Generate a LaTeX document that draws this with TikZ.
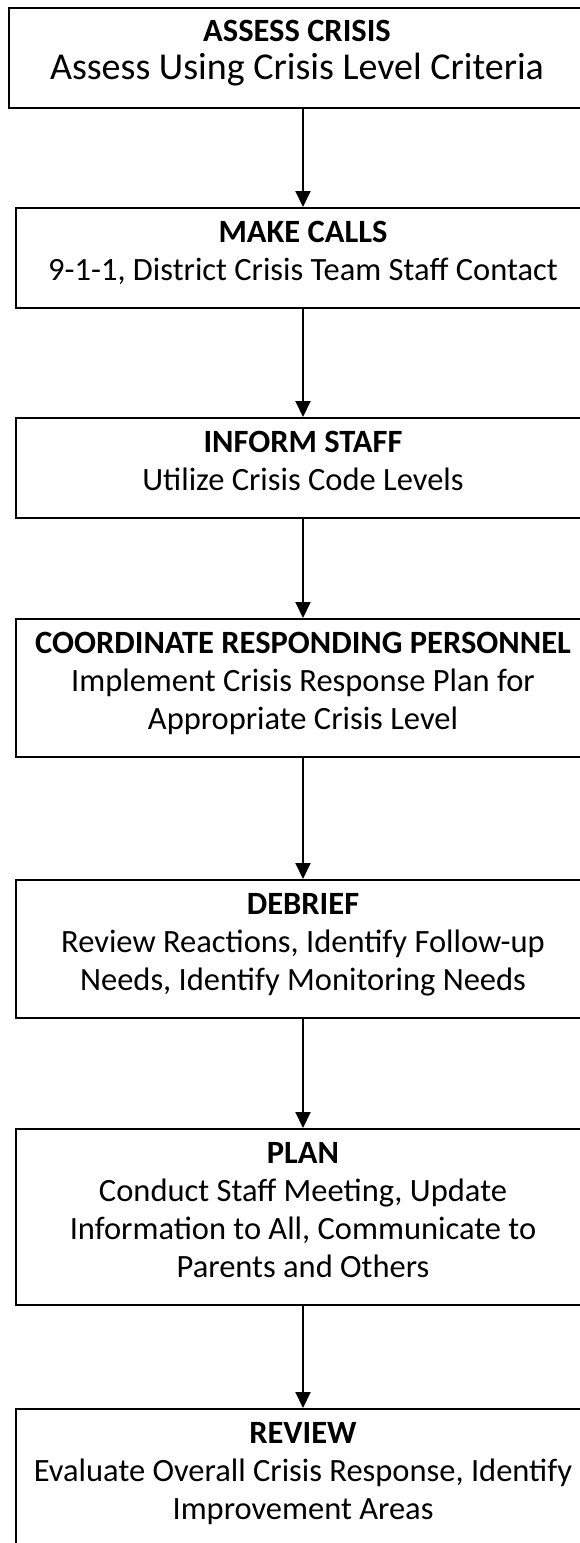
\documentclass[tikz,border=0pt]{standalone}
\usepackage{fontspec}
\setmainfont{Carlito}
\usetikzlibrary{arrows.meta}
% struts that fix the space above the first line and below the last one
\newcommand\topgap{\rule{0pt}{34pt}}
\newcommand\botgap{\rule[-28pt]{0pt}{28pt}}
\begin{document}
\begin{tikzpicture}[x=1pt,y=-1pt,
  stepbox/.style={draw=black, line width=2pt, anchor=north west, align=center,
    inner xsep=0pt, inner ysep=0pt, minimum width=574pt,
    font=\fontsize{32.5}{38}\selectfont},
  flow/.style={draw=black, line width=2pt, -{Triangle[width=15pt,length=16pt]}}]
\useasboundingbox (0,0) rectangle (580,1543);
\clip (0,0) rectangle (580,1543);

\node[stepbox, minimum width=576pt, font=\fontsize{32.5}{38}\selectfont] (assess) at (8,7)
  {\rule{0pt}{33pt}\textbf{ASSESS CRISIS}\\
   {\fontsize{38}{38}\selectfont Assess Using Crisis Level Criteria}\rule[-29pt]{0pt}{29pt}};
\node[stepbox] (calls) at (15,207)
  {\topgap\textbf{MAKE CALLS}\\9-1-1, District Crisis Team Staff Contact\botgap};
\node[stepbox] (inform) at (15,417)
  {\topgap\textbf{INFORM STAFF}\\Utilize Crisis Code Levels\botgap};
\node[stepbox] (coord) at (15,618)
  {\topgap\textbf{COORDINATE RESPONDING PERSONNEL}\\Implement Crisis Response Plan for\\Appropriate Crisis Level\botgap};
\node[stepbox] (debrief) at (15,879)
  {\topgap\textbf{DEBRIEF}\\Review Reactions, Identify Follow-up\\Needs, Identify Monitoring Needs\botgap};
\node[stepbox] (plan) at (15,1128)
  {\topgap\textbf{PLAN}\\Conduct Staff Meeting, Update\\Information to All, Communicate to\\Parents and Others\botgap};
\node[stepbox] (review) at (15,1408)
  {\topgap\textbf{REVIEW}\\Evaluate Overall Crisis Response, Identify\\Improvement Areas\botgap};

\draw[flow] (assess.south -| calls.north) -- (calls.north);
\draw[flow] (calls.south) -- (inform.north);
\draw[flow] (inform.south) -- (coord.north);
\draw[flow] (coord.south) -- (debrief.north);
\draw[flow] (debrief.south) -- (plan.north);
\draw[flow] (plan.south) -- (review.north);
\end{tikzpicture}
\end{document}
